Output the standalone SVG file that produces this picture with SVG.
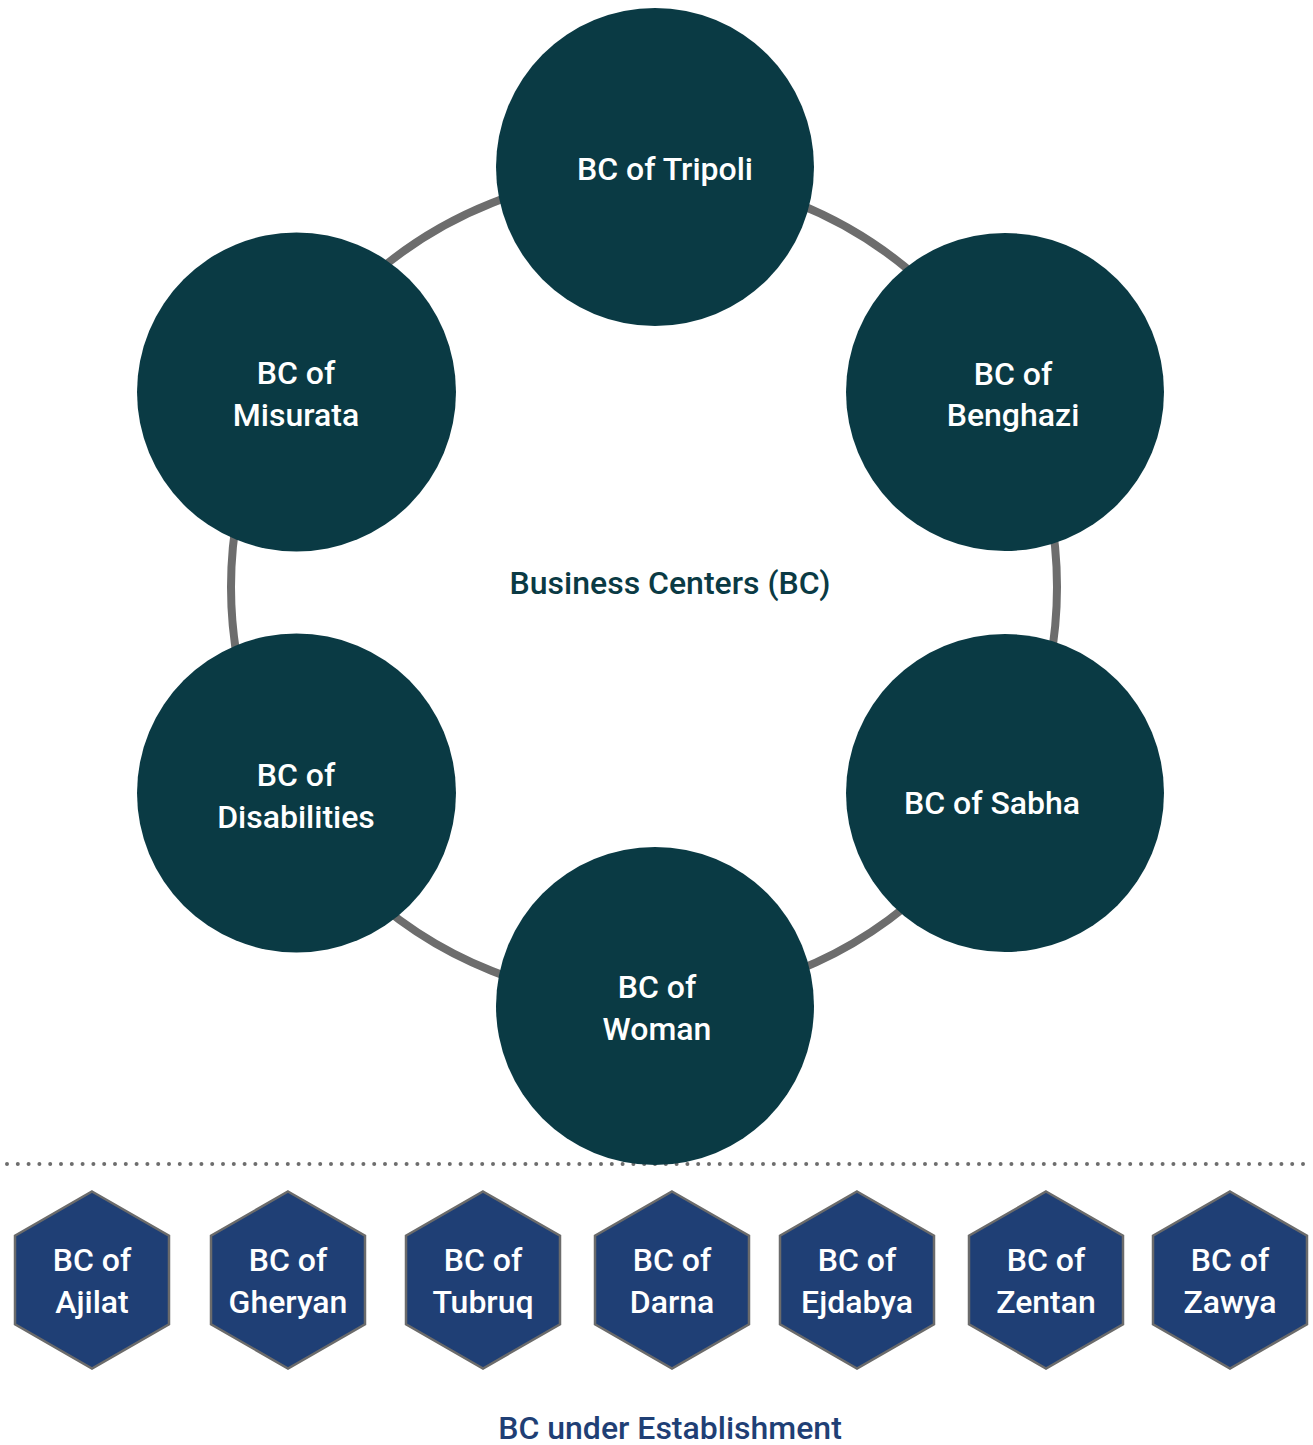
<svg xmlns="http://www.w3.org/2000/svg" width="1313" height="1445" viewBox="0 0 1313 1445">
  <style>
    .hub { fill: #0a3a44; }
    .hex { fill: #1f3f75; stroke: #6b6b6b; stroke-width: 2.5; }
    .lbl { font-family: Roboto, "Liberation Sans", sans-serif; font-weight: 500; fill: #ffffff; text-anchor: middle; }
    .hubtxt { font-size: 32px; }
    .hextxt { font-size: 32px; }
    .title { font-family: Roboto, "Liberation Sans", sans-serif; font-weight: 500; font-size: 32px; text-anchor: middle; }
  </style>
  <defs>
    <polygon id="hexShape" points="0,-88.5 77,-44.25 77,44.25 0,88.5 -77,44.25 -77,-44.25"/>
  </defs>
  <rect width="1313" height="1445" fill="#ffffff"/>

  <!-- ring linking the established centres, and the dotted divider -->
  <g id="connectors">
    <circle cx="644" cy="587" r="413" fill="none" stroke="#6d6d6d" stroke-width="8"/>
    <line x1="7" y1="1164" x2="1313" y2="1164" stroke="#6d6d6d" stroke-width="4" stroke-linecap="round" stroke-dasharray="0 10.8"/>
  </g>

  <!-- established business centres -->
  <g id="bc-tripoli">
    <circle class="hub" cx="655" cy="167" r="159"/>
    <text class="lbl hubtxt" x="665" y="180">BC of Tripoli</text>
  </g>
  <g id="bc-misurata">
    <circle class="hub" cx="296.5" cy="392" r="159.5"/>
    <text class="lbl hubtxt" x="296" y="384">BC of</text>
    <text class="lbl hubtxt" x="296" y="426">Misurata</text>
  </g>
  <g id="bc-benghazi">
    <circle class="hub" cx="1005" cy="392" r="159"/>
    <text class="lbl hubtxt" x="1013" y="385">BC of</text>
    <text class="lbl hubtxt" x="1013" y="426">Benghazi</text>
  </g>
  <g id="bc-disabilities">
    <circle class="hub" cx="296.5" cy="793" r="159.5"/>
    <text class="lbl hubtxt" x="296" y="786">BC of</text>
    <text class="lbl hubtxt" x="296" y="828">Disabilities</text>
  </g>
  <g id="bc-sabha">
    <circle class="hub" cx="1005" cy="793" r="159"/>
    <text class="lbl hubtxt" x="992" y="814">BC of Sabha</text>
  </g>
  <g id="bc-woman">
    <circle class="hub" cx="655" cy="1006" r="159"/>
    <text class="lbl hubtxt" x="657" y="998">BC of</text>
    <text class="lbl hubtxt" x="657" y="1040">Woman</text>
  </g>

  <text id="title-bc" class="title" x="670" y="594" fill="#0a3a44">Business Centers (BC)</text>

  <!-- centres under establishment -->
  <g id="bc-ajilat">
    <use href="#hexShape" class="hex" x="92" y="1280"/>
    <text class="lbl hextxt" x="92" y="1271">BC of</text>
    <text class="lbl hextxt" x="92" y="1313">Ajilat</text>
  </g>
  <g id="bc-gheryan">
    <use href="#hexShape" class="hex" x="288" y="1280"/>
    <text class="lbl hextxt" x="288" y="1271">BC of</text>
    <text class="lbl hextxt" x="288" y="1313">Gheryan</text>
  </g>
  <g id="bc-tubruq">
    <use href="#hexShape" class="hex" x="483" y="1280"/>
    <text class="lbl hextxt" x="483" y="1271">BC of</text>
    <text class="lbl hextxt" x="483" y="1313">Tubruq</text>
  </g>
  <g id="bc-darna">
    <use href="#hexShape" class="hex" x="672" y="1280"/>
    <text class="lbl hextxt" x="672" y="1271">BC of</text>
    <text class="lbl hextxt" x="672" y="1313">Darna</text>
  </g>
  <g id="bc-ejdabya">
    <use href="#hexShape" class="hex" x="857" y="1280"/>
    <text class="lbl hextxt" x="857" y="1271">BC of</text>
    <text class="lbl hextxt" x="857" y="1313">Ejdabya</text>
  </g>
  <g id="bc-zentan">
    <use href="#hexShape" class="hex" x="1046" y="1280"/>
    <text class="lbl hextxt" x="1046" y="1271">BC of</text>
    <text class="lbl hextxt" x="1046" y="1313">Zentan</text>
  </g>
  <g id="bc-zawya">
    <use href="#hexShape" class="hex" x="1230" y="1280"/>
    <text class="lbl hextxt" x="1230" y="1271">BC of</text>
    <text class="lbl hextxt" x="1230" y="1313">Zawya</text>
  </g>

  <text id="title-establishment" class="title" x="670" y="1439" fill="#1f3f75">BC under Establishment</text>
</svg>
